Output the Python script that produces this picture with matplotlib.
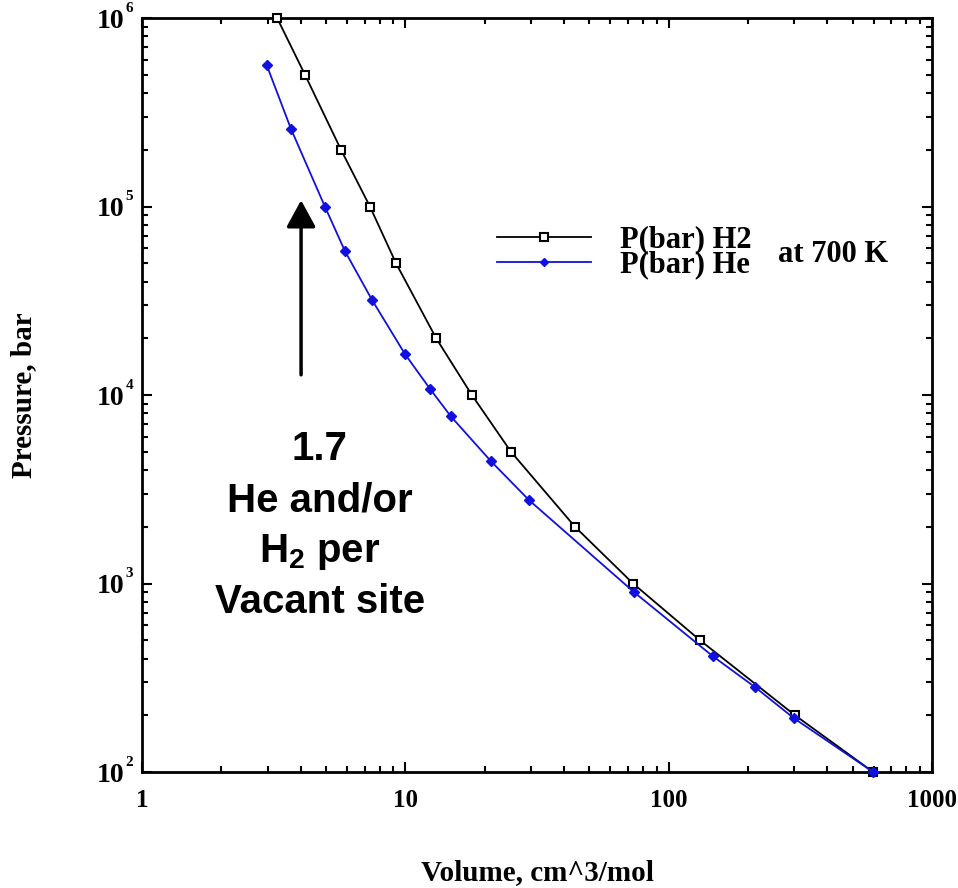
import numpy as np
import matplotlib.pyplot as plt
from matplotlib.ticker import FixedLocator, FixedFormatter, LogLocator, NullFormatter
from matplotlib.transforms import blended_transform_factory, offset_copy

plt.rcParams['font.family'] = 'Liberation Serif'
plt.rcParams['font.weight'] = 'bold'
plt.rcParams['mathtext.fontset'] = 'custom'
plt.rcParams['mathtext.rm'] = 'Liberation Serif:bold'
plt.rcParams['mathtext.bf'] = 'Liberation Serif:bold'
plt.rcParams['mathtext.sf'] = 'Liberation Sans:bold'

# volume (cm^3/mol) and pressure (bar)
vol_h2 = [3.26, 4.16, 5.7, 7.34, 9.22, 13.1, 17.9, 25.2, 44.1, 73.3, 131.6, 302, 598]
p_h2 = [1e6, 5e5, 2e5, 1e5, 5e4, 2e4, 1e4, 5e3, 2e3, 1e3, 500, 200, 100]
vol_he = [2.98, 3.68, 4.95, 5.9, 7.47, 9.97, 12.4, 14.9, 21.1, 29.5, 73.9, 147, 213, 299, 598]
p_he = [5.6e5, 2.58e5, 1.0e5, 5.8e4, 3.2e4, 1.65e4, 1.08e4, 7.7e3, 4.47e3, 2.77e3, 900, 412, 282, 193, 100]

xticks = [1, 10, 100, 1000]
xlabels = ["1", "10", "100", "1000"]
yticks = [1e2, 1e3, 1e4, 1e5, 1e6]
yexps = ["2", "3", "4", "5", "6"]

fig = plt.figure(figsize=(9.58, 8.88), dpi=100)
ax = fig.add_axes([0.1482, 0.1306, 0.8246, 0.8491])

ax.plot(vol_h2, p_h2, color="black", lw=1.3, marker="s", ms=6, mfc="white",
        mec="black", mew=1.5, clip_on=False, zorder=3, label="P(bar) H2")
ax.plot(vol_he, p_he, color="#1010e0", lw=1.3, marker="D", ms=5, mfc="#1010e0",
        mec="#1010e0", clip_on=False, zorder=3, label="P(bar) He")

ax.set_xscale("log")
ax.set_yscale("log")
ax.set_xlim(1, 1000)
ax.set_ylim(1e2, 1e6)

ax.xaxis.set_major_locator(FixedLocator(xticks))
ax.xaxis.set_major_formatter(FixedFormatter(xlabels))
ax.yaxis.set_major_locator(FixedLocator(yticks))
ax.yaxis.set_major_formatter(FixedFormatter(["10"] * len(yticks)))
ax.xaxis.set_minor_locator(LogLocator(base=10, subs=np.arange(2, 10)))
ax.yaxis.set_minor_locator(LogLocator(base=10, subs=np.arange(2, 10)))
ax.xaxis.set_minor_formatter(NullFormatter())
ax.yaxis.set_minor_formatter(NullFormatter())

ax.tick_params(which="both", direction="in", top=True, right=True, width=1.5)
ax.tick_params(which="major", length=7)
ax.tick_params(which="minor", length=4)
ax.tick_params(axis="x", labelsize=18, pad=12)
ax.tick_params(axis="y", labelsize=20, pad=13)
for s in ax.spines.values():
    s.set_linewidth(2)

# small raised exponents next to the "10" labels
tr = offset_copy(blended_transform_factory(ax.transAxes, ax.transData), fig=fig, x=0, y=7, units="points")
for yv, ex in zip(yticks, yexps):
    ax.text(-0.011, yv, ex, transform=tr, fontsize=11, fontweight="bold",
            ha="right", va="center", clip_on=False)

ax.set_xlabel("Volume, cm^3/mol", fontsize=21, fontweight="bold")
ax.set_ylabel("Pressure, bar", fontsize=21, fontweight="bold")
ax.xaxis.set_label_coords(0.5, -0.116)
ax.yaxis.set_label_coords(-0.133, 0.5)

leg = ax.legend(loc="upper left", bbox_to_anchor=(0.449, 0.725), frameon=False,
                fontsize=22, handlelength=3.1, handletextpad=0.95,
                labelspacing=-0.12, borderpad=0, borderaxespad=0, markerscale=0.9)
ax.text(0.805, 0.686, "at 700 K", transform=ax.transAxes, fontsize=22,
        fontweight="bold", ha="left", va="center")

# arrow and note
ax.annotate("", xy=(4.02, 1.08e5), xytext=(4.02, 1.28e4),
            arrowprops=dict(arrowstyle="-|>,head_length=0.55,head_width=0.3",
                            lw=2.5, color="black", mutation_scale=30, shrinkA=0, shrinkB=0))
note = ["1.7", "He and/or", r"H$\mathsf{_2}$ per", "Vacant site"]
note_y = [0.429, 0.360, 0.292, 0.226]
for line, yy in zip(note, note_y):
    ax.text(0.225, yy, line, transform=ax.transAxes, fontsize=29,
            family="Liberation Sans", fontweight="bold", ha="center", va="center")

fig.savefig("out.png", dpi=100)
